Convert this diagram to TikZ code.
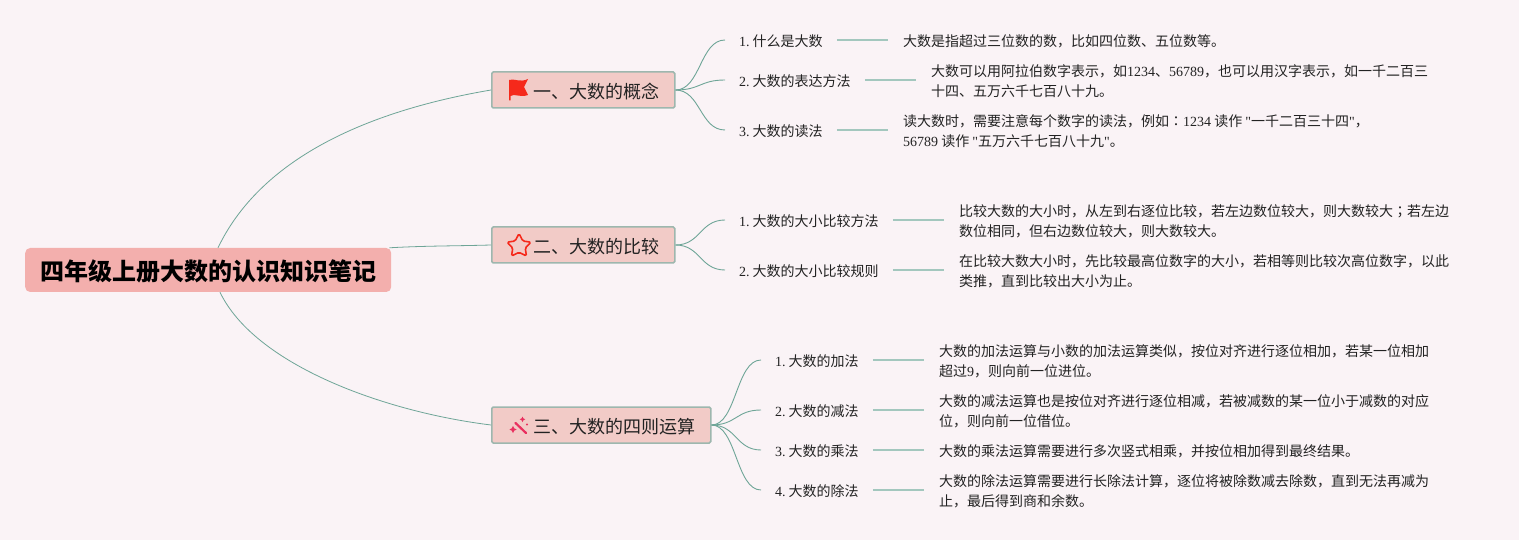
\documentclass[tikz,border=0pt]{standalone}
\usepackage{fontspec}
\setmainfont{Liberation Serif}
\newfontfamily\cjk{Noto Sans CJK SC}
\newfontfamily\cjktc{Noto Sans CJK TC}
\newfontfamily\latplain{Liberation Serif}
\newcommand{\lat}[1]{{\rmfamily #1}}
\newcommand{\qt}{{\latplain"}}
\newcommand{\numdot}[1]{{\rmfamily #1.}\hspace{3pt}}
\definecolor{bgc}{HTML}{FAF3F6}
\definecolor{rootfill}{HTML}{F3AFAD}
\definecolor{headfill}{HTML}{F2CBC7}
\definecolor{headline}{HTML}{9DB7AE}
\definecolor{curvec}{HTML}{6EA597}
\definecolor{stemc}{HTML}{A3C7BE}
\definecolor{ink}{HTML}{222222}
\definecolor{flagred}{HTML}{F5291B}
\definecolor{wandc}{HTML}{E9305F}
\tikzset{
  rootbox/.style={anchor=west,fill=rootfill,rounded corners=5pt,minimum width=366pt,minimum height=44pt,inner sep=0pt,text=black,text height=23pt,text depth=1.8pt,font=\cjk\bfseries\fontsize{24}{28}\selectfont},
  headbox/.style={anchor=west,fill=headfill,draw=headline,line width=1.5pt,rounded corners=1.5pt,minimum height=36pt,inner ysep=0pt,inner xsep=15pt,text=ink,text height=18pt,text depth=1.4pt,font=\cjk\fontsize{18}{22}\selectfont},
  labelbox/.style={anchor=west,inner xsep=14pt,inner ysep=2pt,text=ink,text height=14pt,text depth=1.4pt,font=\cjk\fontsize{14}{20}\selectfont},
  notebox/.style={anchor=west,inner xsep=15pt,inner ysep=0pt,align=left,text=ink,yshift=-1.5pt,font=\cjk\fontsize{14}{20}\selectfont},
  bigcurve/.style={draw=curvec,line width=0.8pt},
  twig/.style={draw=curvec,line width=0.9pt},
  stem/.style={draw=stemc,line width=1.3pt}
}
\begin{document}
\begin{tikzpicture}[x=1pt,y=-1pt]
\path[fill=bgc] (0,0) rectangle (1519,540);
\useasboundingbox (0,0) rectangle (1519,540);
% nodes
\node[rootbox] (root) at (25,270) {四年级上册大数的认识知识笔记};
\node[headbox] (h1) at (491,90) {\hspace{27pt}一、大数的概念};
\node[headbox] (h2) at (491,245) {\hspace{27pt}二、大数的比较};
\node[headbox] (h3) at (491,425) {\hspace{27pt}三、大数的四则运算};
\node[labelbox] (a1) at (725,40) {\numdot{1}什么是大数};
\node[labelbox] (a2) at (725,80) {\numdot{2}大数的表达方法};
\node[labelbox] (a3) at (725,130) {\numdot{3}大数的读法};
\node[labelbox] (b1) at (725,220) {\numdot{1}大数的大小比较方法};
\node[labelbox] (b2) at (725,270) {\numdot{2}大数的大小比较规则};
\node[labelbox] (c1) at (761,360) {\numdot{1}大数的加法};
\node[labelbox] (c2) at (761,410) {\numdot{2}大数的减法};
\node[labelbox] (c3) at (761,450) {\numdot{3}大数的乘法};
\node[labelbox] (c4) at (761,490) {\numdot{4}大数的除法};
\node[notebox] (ta1) at (888,40) {大数是指超过三位数的数，比如四位数、五位数等。};
\node[notebox] (ta2) at (916,80) {大数可以用阿拉伯数字表示，如\lat{1234}、\lat{56789}，也可以用汉字表示，如一千二百三\\十四、五万六千七百八十九。};
\node[notebox] (ta3) at (888,130) {读大数时，需要注意每个数字的读法，例如{\cjktc ：}\lat{1234} 读作 \qt 一千二百三十四\qt ，\\\lat{56789} 读作 \qt 五万六千七百八十九\qt 。};
\node[notebox] (tb1) at (944,220) {比较大数的大小时，从左到右逐位比较，若左边数位较大，则大数较大{\cjktc ；}若左边\\数位相同，但右边数位较大，则大数较大。};
\node[notebox] (tb2) at (944,270) {在比较大数大小时，先比较最高位数字的大小，若相等则比较次高位数字，以此\\类推，直到比较出大小为止。};
\node[notebox] (tc1) at (924,360) {大数的加法运算与小数的加法运算类似，按位对齐进行逐位相加，若某一位相加\\超过\lat{9}，则向前一位进位。};
\node[notebox] (tc2) at (924,410) {大数的减法运算也是按位对齐进行逐位相减，若被减数的某一位小于减数的对应\\位，则向前一位借位。};
\node[notebox] (tc3) at (924,450) {大数的乘法运算需要进行多次竖式相乘，并按位相加得到最终结果。};
\node[notebox] (tc4) at (924,490) {大数的除法运算需要进行长除法计算，逐位将被除数减去除数，直到无法再减为\\止，最后得到商和余数。};
% root connectors
\draw[bigcurve] ([xshift=193pt]root.north west) .. controls +(47,-98) and +(-106,18) .. (h1.west);
\draw[bigcurve] ([xshift=-2pt]root.north east) .. controls +(35,-2) and +(-35,1) .. (h2.west);
\draw[bigcurve] ([xshift=195pt]root.south west) .. controls +(35,73) and +(-106,-13) .. (h3.west);
% branch connectors
\foreach \h/\n in {h1/a1,h1/a2,h1/a3,h2/b1,h2/b2,h3/c1,h3/c2,h3/c3,h3/c4}
  \draw[twig] (\h.east) .. controls +(25,0) and +(-25,0) .. (\n.west);
% stems
\foreach \n/\t in {a1/ta1,a2/ta2,a3/ta3,b1/tb1,b2/tb2,c1/tc1,c2/tc2,c3/tc3,c4/tc4}
  \draw[stem] (\n.east) -- (\n.east -| \t.west);
% flag icon
\fill[flagred] (509,80) .. controls (514,78) and (520,83) .. (528,79) -- (524,87) -- (528,95) .. controls (520,98) and (514,93) .. (510.5,96) -- (510.5,100.5) -- (509,100.5) -- cycle;
% star icon
\draw[flagred,line width=1.6pt,rounded corners=1.5pt,line join=round,shift={(519,246)}]
  (0,-12.5) -- (3.8,-5) -- (12,-3.8) -- (6.2,2) -- (7.5,10) -- (0,6.3) -- (-7.5,10) -- (-6.2,2) -- (-12,-3.8) -- (-3.8,-5) -- cycle;
% wand icon
\draw[wandc,line width=2.2pt,line cap=round] (515.5,423) -- (526,433);
\fill[wandc] (513,426) -- (514.2,428.3) -- (516.5,429.5) -- (514.2,430.7) -- (513,433) -- (511.8,430.7) -- (509.5,429.5) -- (511.8,428.3) -- cycle;
\fill[wandc] (522.5,416.5) -- (523.4,418.4) -- (525.3,419.3) -- (523.4,420.2) -- (522.5,422.1) -- (521.6,420.2) -- (519.7,419.3) -- (521.6,418.4) -- cycle;
\fill[wandc] (527,424.5) circle (1.1pt);
\end{tikzpicture}
\end{document}
